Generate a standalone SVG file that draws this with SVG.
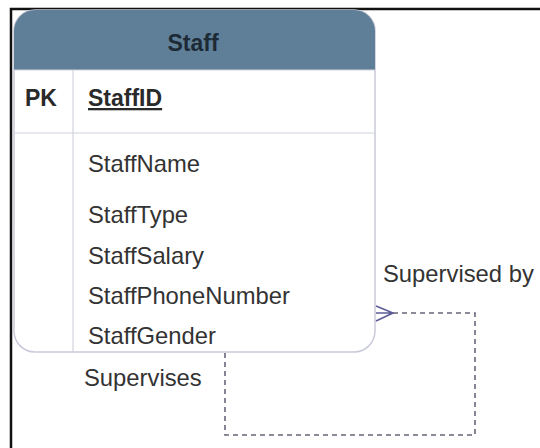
<svg xmlns="http://www.w3.org/2000/svg" width="540" height="448" viewBox="0 0 540 448">
  <style>
    .frame { stroke: #111; stroke-width: 2.5; fill: none; }
    .body { fill: #ffffff; stroke: #c9cad8; stroke-width: 1.5; }
    .head { fill: #5f7f98; }
    .rule { stroke: #d2d3de; stroke-width: 1.2; }
    .title { font-family: "Liberation Sans", Arial, sans-serif; font-size: 23px; font-weight: bold; fill: #1d2a36; }
    .key { font-family: "Liberation Sans", Arial, sans-serif; font-size: 23px; font-weight: bold; fill: #2a2a2a; }
    .attr { font-family: "Liberation Sans", Arial, sans-serif; font-size: 23.8px; fill: #333333; }
    .label { font-family: "Liberation Sans", Arial, sans-serif; font-size: 23.8px; fill: #333333; }
    .link { fill: none; stroke: #66667a; stroke-width: 1.6; stroke-dasharray: 5 4; }
    .foot { fill: none; stroke: #5c5c96; stroke-width: 1.6; }
  </style>

  <!-- outer frame edges -->
  <path class="frame" d="M11,448 V9 H540"/>

  <!-- Staff entity -->
  <g id="staff">
    <rect class="body" x="14" y="10" width="361" height="342" rx="21" ry="21"/>
    <path class="head" d="M14,70 V31 A21,21 0 0 1 35,10 H354 A21,21 0 0 1 375,31 V70 Z"/>
    <line class="rule" x1="14" y1="70" x2="375" y2="70"/>
    <line class="rule" x1="14" y1="133" x2="375" y2="133"/>
    <line class="rule" x1="73" y1="70" x2="73" y2="352"/>
    <text class="title" x="193" y="51" text-anchor="middle">Staff</text>
    <text class="key" x="25" y="106">PK</text>
    <text class="key" x="88" y="106" text-decoration="underline">StaffID</text>
    <text class="attr" x="88" y="172">StaffName</text>
    <text class="attr" x="88" y="223">StaffType</text>
    <text class="attr" x="88" y="264">StaffSalary</text>
    <text class="attr" x="88" y="304">StaffPhoneNumber</text>
    <text class="attr" x="88" y="344">StaffGender</text>
  </g>

  <!-- self-referencing relationship -->
  <g id="connectors">
    <path class="foot" d="M376,306 L393,313 L376,321 M376,313 H393"/>
    <path class="link" d="M393,313 H475 V435 H225 V352"/>
    <text class="label" x="383" y="282">Supervised by</text>
    <text class="label" x="84" y="386">Supervises</text>
  </g>
</svg>
